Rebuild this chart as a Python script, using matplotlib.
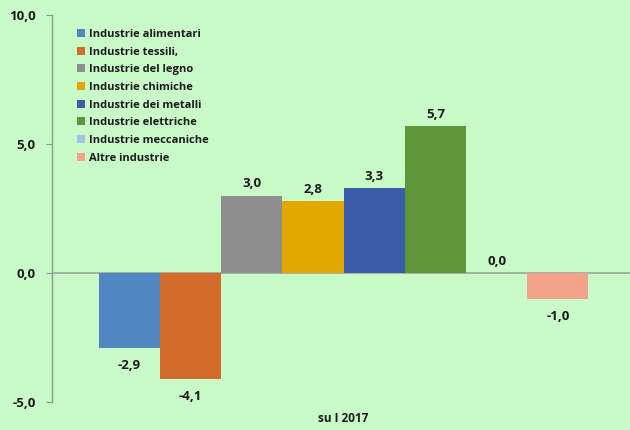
import matplotlib.pyplot as plt

categories = ["Industrie alimentari", "Industrie tessili,", "Industrie del legno",
              "Industrie chimiche", "Industrie dei metalli", "Industrie elettriche",
              "Industrie meccaniche", "Altre industrie"]
values = [-2.9, -4.1, 3.0, 2.8, 3.3, 5.7, 0.0, -1.0]
colors = ["#5086C1", "#D36B2B", "#8E8E8E", "#E2A800", "#3B5CA9", "#5E9639",
          "#A4C3E6", "#F2A38A"]
yticks = [-5, 0, 5, 10]
xlabel = "su I 2017"

bg = "#C8FBC8"
plt.rcParams['font.family'] = ['Open Sans', 'DejaVu Sans']

fig = plt.figure(figsize=(6.3, 4.3), dpi=100, facecolor=bg)
ax = fig.add_axes([0.083, 0.065, 0.925, 0.9])
ax.set_facecolor(bg)

n = len(values)
width = 0.84 / n
for i, (cat, v, c) in enumerate(zip(categories, values, colors)):
    x = -0.42 + width * (i + 0.5)
    ax.bar(x, v, width=width, color=c, label=cat, zorder=2)
    label = f"{v:.1f}".replace(".", ",")
    if v >= 0:
        ax.text(x, v + 0.2, label, ha='center', va='bottom', fontsize=9.5,
                fontweight='bold', color='#1a1a1a')
    else:
        ax.text(x, v - 0.45, label, ha='center', va='top', fontsize=9.5,
                fontweight='bold', color='#1a1a1a')

ax.axhline(0, color='#9aa89a', linewidth=1.2, zorder=1)
ax.set_xlim(-0.5, 0.5)
ax.set_ylim(-5, 10)
ax.set_yticks(yticks)
ax.set_yticklabels([f"{t:.1f}".replace(".", ",") for t in yticks],
                   fontsize=9.5, fontweight='bold', color='#1a1a1a')
ax.set_xticks([])
ax.tick_params(axis='y', length=4, color='#8a9a8a', pad=8)
for s in ['top', 'right', 'bottom']:
    ax.spines[s].set_visible(False)
ax.spines['left'].set_color('#8a9a8a')
ax.spines['left'].set_linewidth(1)

ax.text(0.0, -5.65, xlabel, ha='center', va='center', fontsize=8.5,
        fontweight='bold', color='#1a1a1a')

leg = ax.legend(loc='upper left', bbox_to_anchor=(0.025, 0.99), frameon=False,
                handlelength=0.7, handleheight=0.7, handletextpad=0.4,
                labelspacing=0.6, prop={'size': 8, 'weight': 'bold'})
for t in leg.get_texts():
    t.set_color('#1a1a1a')

fig.savefig("out.png", dpi=100, facecolor=bg)
